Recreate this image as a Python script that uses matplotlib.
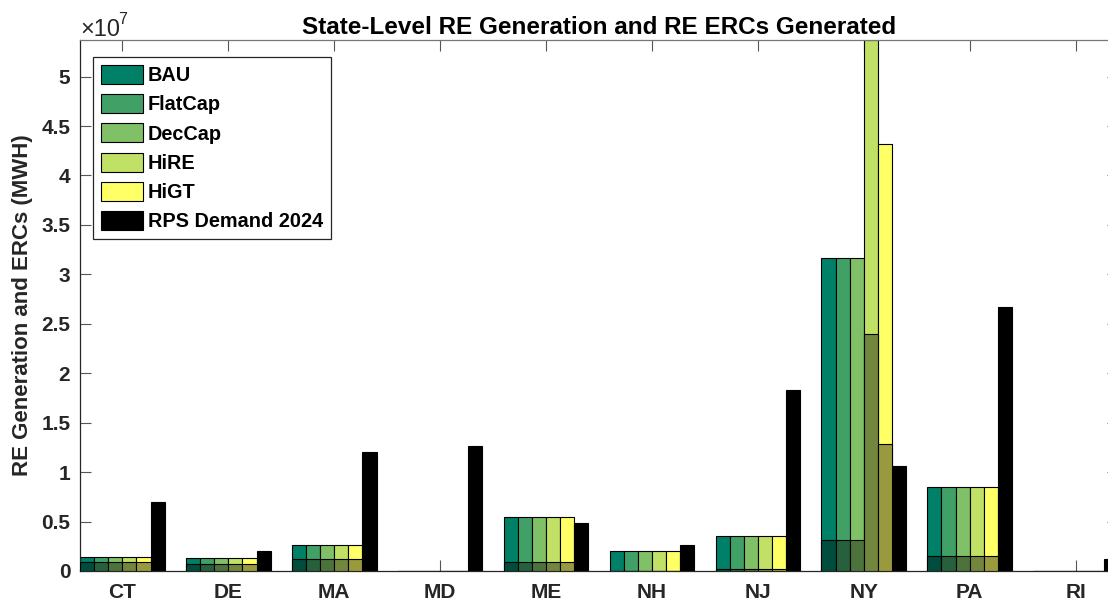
import numpy as np
import matplotlib
matplotlib.use("Agg")
import matplotlib.pyplot as plt
from matplotlib.ticker import FuncFormatter, MultipleLocator

plt.rcParams['font.family'] = ['Liberation Sans', 'DejaVu Sans']

# ---- data (MWh) ----
states = ['CT', 'DE', 'MA', 'MD', 'ME', 'NH', 'NJ', 'NY', 'PA', 'RI']
scenarios = ['BAU', 'FlatCap', 'DecCap', 'HiRE', 'HiGT']
demand_label = 'RPS Demand 2024'

# RE generation by scenario
gen_bau     = [1.39e6, 1.28e6, 2.60e6, 0.0, 5.44e6, 2.05e6, 3.50e6, 3.17e7, 8.52e6, 0.0]
gen_flatcap = [1.39e6, 1.28e6, 2.60e6, 0.0, 5.44e6, 2.05e6, 3.50e6, 3.17e7, 8.52e6, 0.0]
gen_deccap  = [1.39e6, 1.28e6, 2.60e6, 0.0, 5.44e6, 2.05e6, 3.50e6, 3.17e7, 8.52e6, 0.0]
gen_hire    = [1.39e6, 1.28e6, 2.60e6, 0.0, 5.44e6, 2.05e6, 3.50e6, 5.37e7, 8.52e6, 0.0]
gen_higt    = [1.39e6, 1.28e6, 2.60e6, 0.0, 5.44e6, 2.05e6, 3.50e6, 4.32e7, 8.52e6, 0.0]

# RE ERCs generated by scenario
erc_bau     = [8.8e5, 7.1e5, 1.20e6, 0.0, 8.8e5, 4.0e4, 2.4e5, 3.16e6, 1.52e6, 0.0]
erc_flatcap = [8.8e5, 7.1e5, 1.20e6, 0.0, 8.8e5, 4.0e4, 2.4e5, 3.16e6, 1.52e6, 0.0]
erc_deccap  = [8.8e5, 7.1e5, 1.20e6, 0.0, 8.8e5, 4.0e4, 2.4e5, 3.16e6, 1.52e6, 0.0]
erc_hire    = [8.8e5, 7.1e5, 1.20e6, 0.0, 8.8e5, 4.0e4, 2.4e5, 2.40e7, 1.52e6, 0.0]
erc_higt    = [8.8e5, 7.1e5, 1.20e6, 0.0, 8.8e5, 4.0e4, 2.4e5, 1.28e7, 1.52e6, 0.0]

# RPS demand in 2024
rps_demand = [6.98e6, 2.07e6, 1.20e7, 1.26e7, 4.84e6, 2.62e6, 1.83e7, 1.06e7, 2.67e7, 1.19e6]

gen = [gen_bau, gen_flatcap, gen_deccap, gen_hire, gen_higt]
erc = [erc_bau, erc_flatcap, erc_deccap, erc_hire, erc_higt]

# summer colormap, five steps; ERC segments are a darker shade
colors = [plt.get_cmap('summer')(v)[:3] for v in np.linspace(0, 1, 5)]
dark = [tuple(0.6 * c for c in col) for col in colors]

# ---- figure ----
W, H = 1108, 608
fig = plt.figure(figsize=(W / 100, H / 100), dpi=100)
ax = fig.add_axes([80 / W, 37 / H, 1038 / W, 531 / H])

x = np.arange(1, len(states) + 1)
nbar = 6
group_w = 0.8
bw = group_w / nbar
offsets = -group_w / 2 + bw * (np.arange(nbar) + 0.5)

handles = []
for i in range(5):
    h = ax.bar(x + offsets[i], gen[i], width=bw, color=colors[i],
               edgecolor='black', linewidth=0.8, label=scenarios[i], zorder=2)
    ax.bar(x + offsets[i], erc[i], width=bw, color=dark[i],
           edgecolor='black', linewidth=0.8, zorder=3)
    handles.append(h)
h = ax.bar(x + offsets[5], rps_demand, width=bw, color='black',
           edgecolor='black', linewidth=0.8, label=demand_label, zorder=2)
handles.append(h)

ymax = max(max(g) for g in gen)
ax.set_xlim(0.6, len(states) + 0.4)
ax.set_ylim(0, ymax)

ax.set_xticks(x)
ax.set_xticklabels(states)
ax.yaxis.set_major_locator(MultipleLocator(5e6))
ax.yaxis.set_major_formatter(FuncFormatter(lambda v, p: f"{v / 1e7:g}"))

ax.set_axisbelow(True)
ax.tick_params(axis='both', which='major', direction='in', length=8,
               width=0.8, color='#555555', labelsize=15, top=True, right=True)
ax.tick_params(axis='x', pad=9)
ax.tick_params(axis='y', pad=7)
for lab in ax.get_xticklabels() + ax.get_yticklabels():
    lab.set_fontweight('bold')
    lab.set_color('#262626')
for sp in ax.spines.values():
    sp.set_color('#262626')
    sp.set_linewidth(0.9)
ax.spines['top'].set_color('#777777')
ax.spines['right'].set_color('#777777')

ax.set_title('State-Level RE Generation and RE ERCs Generated',
             fontsize=17.5, fontweight='bold', pad=4)
ax.set_ylabel('RE Generation and ERCs (MWH)', fontsize=16, fontweight='bold',
              color='#262626')
ax.yaxis.set_label_coords(-0.045, 0.5)

# axis exponent above the y axis
fig.text(80 / W, 1 - 35.5 / H, '\u00d710', fontsize=17,
         va='baseline', ha='left', color='#262626')
fig.text(118 / W, 1 - 24 / H, '7', fontsize=11.5,
         va='baseline', ha='left', color='#262626')

leg = ax.legend(handles=handles, loc='upper left',
                bbox_to_anchor=(0.013, 0.968), borderaxespad=0,
                prop={'weight': 'bold', 'size': 14.3},
                frameon=True, fancybox=False, framealpha=1,
                handlelength=2.1, handleheight=1.1, handletextpad=0.25,
                labelspacing=0.45, borderpad=0.4)
leg.get_frame().set_edgecolor('#262626')
leg.get_frame().set_linewidth(0.9)

fig.savefig('out.png', dpi=100)
